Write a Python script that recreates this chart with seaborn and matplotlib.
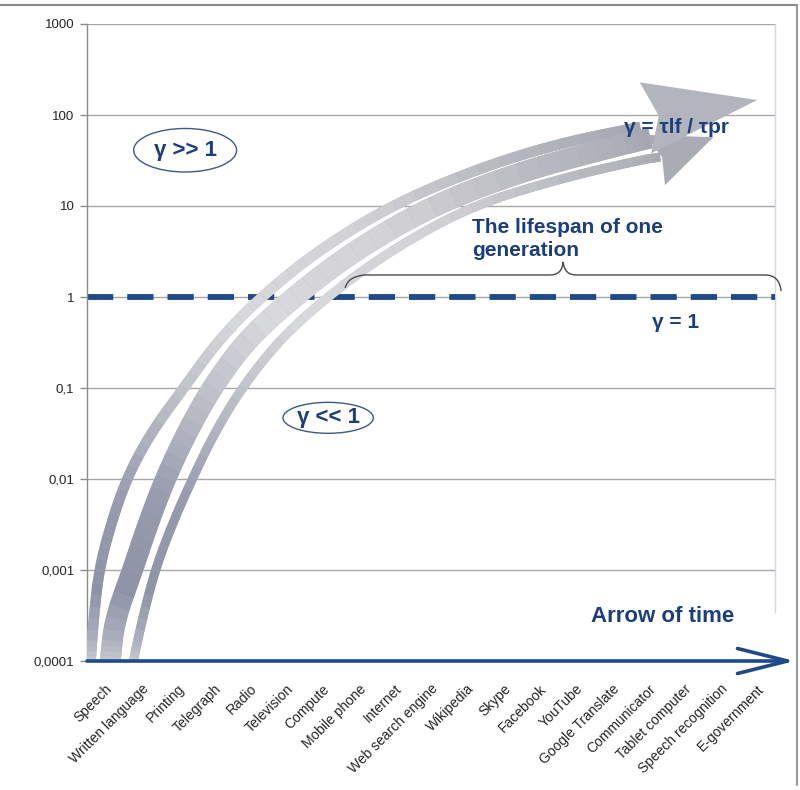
import numpy as np
import matplotlib
matplotlib.use("Agg")
import matplotlib.pyplot as plt
import seaborn as sns
from matplotlib.path import Path
from matplotlib.patches import PathPatch, Polygon
from matplotlib.colors import LinearSegmentedColormap
from matplotlib.lines import Line2D

# ---------------- data ----------------
categories = ["Speech", "Written language", "Printing", "Telegraph", "Radio",
              "Television", "Compute", "Mobile phone", "Internet",
              "Web search engine", "Wikipedia", "Skype", "Facebook", "YouTube",
              "Google Translate", "Communicator", "Tablet computer",
              "Speech recognition", "E-government"]
y_ticks = [1e-4, 1e-3, 1e-2, 1e-1, 1, 10, 100, 1000]
y_tick_labels = ["0,0001", "0,001", "0,01", "0,1", "1", "10", "100", "1000"]
gamma_one = 1.0

# three brush bands of the big curved arrow (category position, gamma value)
band_a_x = [-0.40, -0.32, -0.17, 0.15, 0.60, 1.26, 2.17, 3.14, 4.30, 5.90, 7.97, 10.32, 12.55, 14.78]
band_a_y = [1e-4, 2.8e-4, 1e-3, 3.1e-3, 0.0103, 0.032, 0.1, 0.34, 1.0, 3.3, 10.5, 26, 49, 74]
band_b_x = [0.14, 0.26, 0.76, 1.17, 1.67, 2.25, 2.94, 3.91, 5.21, 6.81, 9.00, 11.46, 13.67, 15.06]
band_b_y = [1e-4, 2.8e-4, 1e-3, 3.1e-3, 0.0103, 0.032, 0.1, 0.34, 1.0, 3.1, 10, 23.7, 41, 56]
band_c_x = [0.78, 1.02, 1.38, 1.84, 2.42, 3.02, 3.77, 4.82, 6.12, 7.91, 10.10, 12.57, 14.78, 15.33]
band_c_y = [1e-4, 2.8e-4, 1e-3, 3.1e-3, 0.0103, 0.032, 0.1, 0.34, 1.0, 3.3, 10, 20, 32, 34.5]
# arrow heads: base centre and tip
head_top_base = (14.92, 93)
head_top_tip = (18.01, 146)
head_low_base = (15.19, 32)
head_low_tip = (16.80, 57)

# ---------------- style ----------------
sns.set_theme(style="white")
plt.rcParams["font.family"] = ["Liberation Sans", "DejaVu Sans"]

BLUE = "#1b3f7d"
DASH_BLUE = "#1f4a8a"
GRID = "#a8a8a8"

fig = plt.figure(figsize=(8, 7.9), dpi=100)
ax = fig.add_axes([87 / 800, 1 - 661 / 790, (775 - 87) / 800, (661 - 24) / 790])
ax.set_yscale("log")
ax.set_xlim(-0.5, len(categories) - 0.5)
ax.set_ylim(1e-4, 1e3)

ax.set_yticks(y_ticks)
ax.set_yticklabels(y_tick_labels)
ax.minorticks_off()
ax.set_xticks(range(len(categories)))
ax.set_xticklabels(categories, rotation=45, ha="right", rotation_mode="anchor",
                   fontsize=10, color="#262626")
ax.tick_params(axis="y", length=5, width=1, color="#8c8c8c", labelsize=9.5,
               labelcolor="#262626", direction="out", left=True, pad=4)
ax.tick_params(axis="x", length=0, pad=15)

for v in y_ticks[1:]:
    ax.axhline(v, color=GRID, lw=1, zorder=1)

for s in ["top", "right", "bottom"]:
    ax.spines[s].set_visible(False)
ax.spines["left"].set_color("#8c8c8c")
ax.spines["left"].set_linewidth(1)
ax.patch.set_facecolor("white")

# light right edge of plot area
ax.plot([1.0, 1.0], [(661 - 612) / 637, 1.0], transform=ax.transAxes,
        color="#cfd6e4", lw=1, clip_on=False, zorder=1)

# gamma = 1 dashed line
ax.axhline(gamma_one, color=DASH_BLUE, lw=4.2, dashes=(4.5, 2.4), zorder=2)

# bottom time axis with arrow
ax.annotate("", xy=(1.029, 0), xytext=(0, 0), xycoords="axes fraction",
            textcoords="axes fraction",
            arrowprops=dict(arrowstyle="->,head_length=1.8,head_width=0.45",
                            lw=2.6, color=DASH_BLUE, mutation_scale=20,
                            shrinkA=0, shrinkB=0),
            annotation_clip=False, zorder=5)

# ---------------- curved brushed arrow ----------------
cmap = LinearSegmentedColormap.from_list(
    "brush", ["#c4c6cf", "#8f93a7", "#979bad", "#b9bbc5", "#d9d9dd",
              "#d3d3d7", "#b6b7bf", "#a4a6b0"])


def to_data(p):
    return (p[0], 10 ** p[1])


def split_quad(p0, p1, p2):
    a = (p0 + p1) / 2
    b = (p1 + p2) / 2
    m = (a + b) / 2
    return [(p0, a, m), (m, b, p2)]


def band(xs, ys, width):
    # work in (x, log10 y) so the smoothing follows the drawn log scale
    pts = [np.array([x, np.log10(y)]) for x, y in zip(xs, ys)]
    n = len(pts)
    quads = [(pts[0], (pts[0] + (pts[0] + pts[1]) / 2) / 2, (pts[0] + pts[1]) / 2)]
    for i in range(1, n - 1):
        quads.append(((pts[i - 1] + pts[i]) / 2, pts[i], (pts[i] + pts[i + 1]) / 2))
    quads.append(((pts[-2] + pts[-1]) / 2, ((pts[-2] + pts[-1]) / 2 + pts[-1]) / 2, pts[-1]))
    # subdivide every quadratic piece (same geometry) for a smoother gradient
    for _ in range(2):
        quads = [q for Q in quads for q in split_quad(*Q)]
    # full band underneath to hide seams
    verts = [to_data(quads[0][0])]
    codes = [Path.MOVETO]
    for q in quads:
        verts += [to_data(q[1]), to_data(q[2])]
        codes += [Path.CURVE3, Path.CURVE3]
    base = PathPatch(Path(verts, codes), fc="none", ec="#b0b2bc", lw=width, zorder=3)
    base.set_capstyle("butt")
    ax.add_patch(base)
    cols = cmap(np.linspace(0, 1, len(quads)))
    for q, c in zip(quads, cols):
        pp = PathPatch(Path([to_data(q[0]), to_data(q[1]), to_data(q[2])],
                            [Path.MOVETO, Path.CURVE3, Path.CURVE3]),
                       fc="none", ec=c, lw=width, zorder=3.1)
        pp.set_capstyle("butt")
        ax.add_patch(pp)


band(band_a_x, band_a_y, 7.5)
band(band_b_x, band_b_y, 15)
band(band_c_x, band_c_y, 6.5)


def head(base, tip, half_w, color):
    pb = ax.transData.transform(base)
    pt = ax.transData.transform(tip)
    d = pt - pb
    nrm = np.array([-d[1], d[0]]) / np.hypot(*d)
    pts = [pt, pb + nrm * half_w, pb + d * 0.12, pb - nrm * half_w]
    data_pts = ax.transData.inverted().transform(pts)
    ax.add_patch(Polygon(data_pts, closed=True, fc=color, ec="none",
                         zorder=3.2))


head(head_low_base, head_low_tip, 27, "#a9abb5")
head(head_top_base, head_top_tip, 36, "#b3b5be")

# ---------------- brace ----------------
brace_verts = [(6.63, 1.256), (6.71, 1.70), (7.18, 1.746),
               (12.29, 1.746),
               (12.62, 1.746), (12.65, 2.43),
               (12.68, 1.746), (13.01, 1.746),
               (18.23, 1.746),
               (18.62, 1.746), (18.67, 1.164)]
brace_codes = [Path.MOVETO, Path.CURVE3, Path.CURVE3, Path.LINETO,
               Path.CURVE3, Path.CURVE3, Path.CURVE3, Path.CURVE3,
               Path.LINETO, Path.CURVE3, Path.CURVE3]
ax.add_patch(PathPatch(Path(brace_verts, brace_codes), fc="none",
                       ec="#4a4a4a", lw=1, zorder=4, clip_on=False))

# ---------------- texts ----------------
ell = dict(boxstyle="ellipse,pad=0.22", fc="white", ec="#3a5a8a", lw=1)
ax.text(2.21, 41, "γ >> 1", ha="center", va="center", fontsize=16,
        fontweight="bold", color=BLUE, bbox=ell, zorder=6)
ell2 = dict(boxstyle="ellipse,pad=0.02", fc="white", ec="#3a5a8a", lw=1)
ax.text(6.16, 0.047, "γ << 1", ha="center", va="center", fontsize=16,
        fontweight="bold", color=BLUE, bbox=ell2, zorder=6)
ax.text(15.77, 72, "γ = τlf / τpr", ha="center", va="center", fontsize=15,
        fontweight="bold", color=BLUE, zorder=6)
ax.text(10.14, 4.3, "The lifespan of one\ngeneration", ha="left",
        va="center", fontsize=15, fontweight="bold", color=BLUE,
        linespacing=1.25, zorder=6)
ax.text(15.75, 0.531, "γ = 1", ha="center", va="center", fontsize=15,
        fontweight="bold", color=BLUE, zorder=6)
ax.text(15.41, 3.05e-4, "Arrow of time", ha="center", va="center",
        fontsize=16, fontweight="bold", color=BLUE, zorder=6)

# chart-area border
fig.add_artist(Line2D([0, 797 / 800], [1 - 5 / 790] * 2, color="#8a8a8a", lw=1.5))
fig.add_artist(Line2D([797 / 800] * 2, [1 - 5 / 790, 5 / 790], color="#9a9a9a", lw=1.5))

fig.savefig("out.png", dpi=100, facecolor="white")
